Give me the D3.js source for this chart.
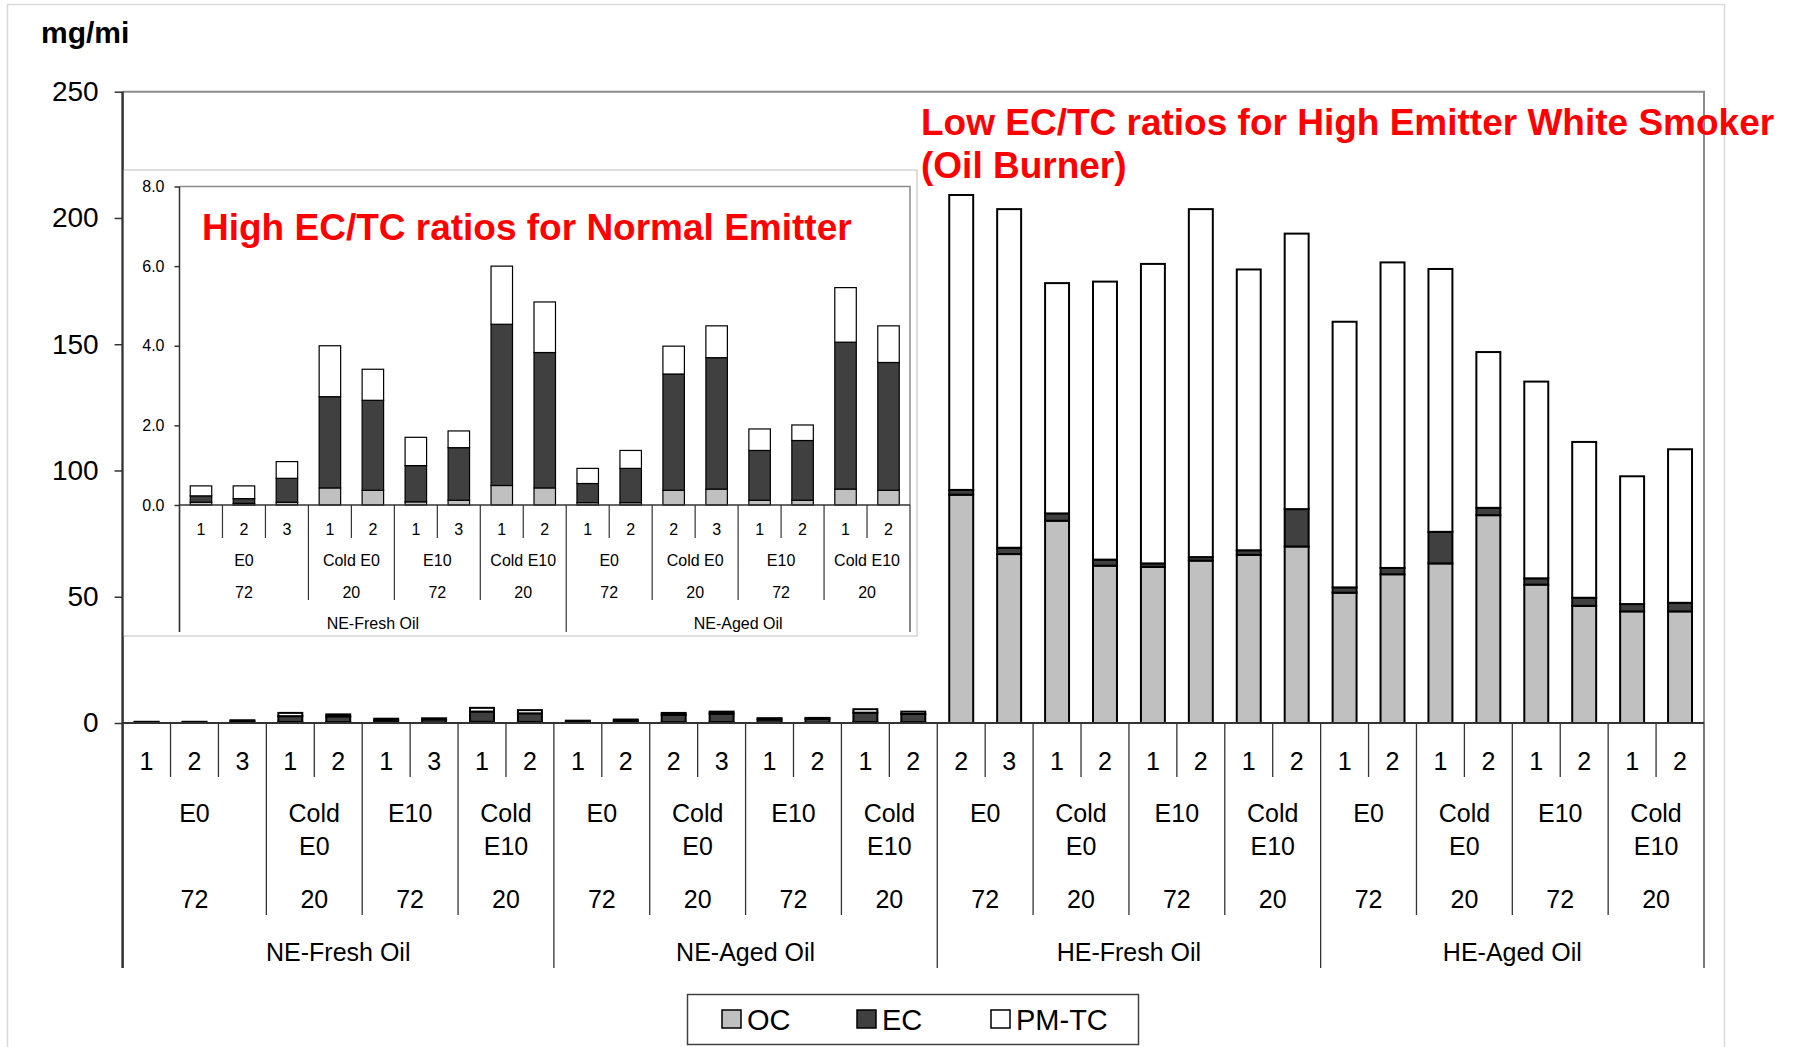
<!DOCTYPE html>
<html>
<head>
<meta charset="utf-8">
<script src="https://cdn.jsdelivr.net/npm/d3@7"></script>
<style>
  body { margin: 0; background: #fff; }
  text { font-family: "Liberation Sans", Arial, sans-serif; }
</style>
</head>
<body>
<svg id="chart" width="1797" height="1047"></svg>
<script>
// ---- Categories (one entry per bar) ----
const groupLabels = [
  "NE-Fresh Oil","NE-Fresh Oil","NE-Fresh Oil","NE-Fresh Oil","NE-Fresh Oil","NE-Fresh Oil","NE-Fresh Oil","NE-Fresh Oil","NE-Fresh Oil",
  "NE-Aged Oil","NE-Aged Oil","NE-Aged Oil","NE-Aged Oil","NE-Aged Oil","NE-Aged Oil","NE-Aged Oil","NE-Aged Oil",
  "HE-Fresh Oil","HE-Fresh Oil","HE-Fresh Oil","HE-Fresh Oil","HE-Fresh Oil","HE-Fresh Oil","HE-Fresh Oil","HE-Fresh Oil",
  "HE-Aged Oil","HE-Aged Oil","HE-Aged Oil","HE-Aged Oil","HE-Aged Oil","HE-Aged Oil","HE-Aged Oil","HE-Aged Oil"
];
const fuelLabels = [
  "E0","E0","E0","Cold E0","Cold E0","E10","E10","Cold E10","Cold E10",
  "E0","E0","Cold E0","Cold E0","E10","E10","Cold E10","Cold E10",
  "E0","E0","Cold E0","Cold E0","E10","E10","Cold E10","Cold E10",
  "E0","E0","Cold E0","Cold E0","E10","E10","Cold E10","Cold E10"
];
const soakLabels = [
  "72","72","72","20","20","72","72","20","20",
  "72","72","20","20","72","72","20","20",
  "72","72","20","20","72","72","20","20",
  "72","72","20","20","72","72","20","20"
];
const runLabels = [
  "1","2","3","1","2","1","3","1","2",
  "1","2","2","3","1","2","1","2",
  "2","3","1","2","1","2","1","2",
  "1","2","1","2","1","2","1","2"
];

// ---- Series (stacked segments, mg/mi) ----
const seriesNames = ["OC", "EC", "PM-TC"];
const ocValues = [
  0.07, 0.04, 0.07, 0.43, 0.37, 0.08, 0.12, 0.49, 0.43,
  0.06, 0.06, 0.37, 0.40, 0.12, 0.12, 0.40, 0.37,
  90.4, 66.9, 80.1, 62.3, 61.8, 64.3, 66.6, 69.9,
  51.6, 58.9, 63.2, 82.3, 54.8, 46.4, 44.2, 44.2
];
const ecValues = [
  0.16, 0.12, 0.60, 2.29, 2.26, 0.91, 1.32, 4.05, 3.40,
  0.48, 0.86, 2.92, 3.30, 1.25, 1.50, 3.69, 3.21,
  1.9, 2.5, 2.9, 2.4, 1.4, 1.4, 1.8, 14.8,
  2.1, 2.5, 12.5, 2.9, 2.5, 3.2, 2.9, 3.4
];
const pmtcValues = [
  0.25, 0.32, 0.42, 1.28, 0.78, 0.71, 0.42, 1.46, 1.27,
  0.38, 0.45, 0.70, 0.80, 0.54, 0.39, 1.37, 0.92,
  116.8, 134.1, 91.2, 110.1, 118.6, 137.8, 111.2, 109.1,
  105.2, 121.0, 104.1, 61.7, 77.9, 61.7, 50.6, 60.8
];

// ---- Axis ticks ----
const mainTicks = [0, 50, 100, 150, 200, 250];
const insetTicks = [0, 2, 4, 6, 8];
const insetCount = 17;   // normal-emitter bars shown in the zoomed panel

const colors = { "OC": "#c0c0c0", "EC": "#404040", "PM-TC": "#ffffff" };

const table = runLabels.map((r, i) => ({ OC: ocValues[i], EC: ecValues[i], "PM-TC": pmtcValues[i] }));
const stacked = d3.stack().keys(seriesNames)(table);

const svg = d3.select("#chart");
svg.append("rect").attr("width", 1797).attr("height", 1047).attr("fill", "#fff");
// outer frame
svg.append("rect").attr("x", 7.5).attr("y", 4.5).attr("width", 1717).attr("height", 1060)
  .attr("fill", "none").attr("stroke", "#d9d9d9").attr("stroke-width", 1.5);

// consecutive runs of identical keys -> [start, end) spans
function spans(keyFn, n) {
  const out = [];
  let s = 0;
  for (let i = 1; i <= n; i++) {
    if (i === n || keyFn(i) !== keyFn(s)) { out.push([s, i]); s = i; }
  }
  return out;
}

function drawPanel(cfg) {
  const n = cfg.count;
  const g = svg.append("g");
  const x = d3.scaleBand().domain(d3.range(n)).range([cfg.left, cfg.right])
    .paddingInner(0.5).paddingOuter(0.25);
  const y = d3.scaleLinear().domain([0, cfg.max]).range([cfg.bottom, cfg.top]);
  const gap = (x.step() - x.bandwidth()) / 2;
  const edge = i => i < n ? x(i) - gap : x(n - 1) + x.bandwidth() + gap;

  // plot area border (top and right)
  g.append("path")
    .attr("d", `M${cfg.left},${y(cfg.max)}H${cfg.right}V${y(0)}`)
    .attr("fill", "none").attr("stroke", "#8c8c8c").attr("stroke-width", cfg.borderWidth);

  // stacked bars
  stacked.forEach(s => {
    g.append("g").attr("fill", colors[s.key])
      .selectAll("rect").data(s.slice(0, n)).join("rect")
      .attr("x", (d, i) => x(i))
      .attr("width", x.bandwidth())
      .attr("y", d => y(d[1]))
      .attr("height", d => y(d[0]) - y(d[1]))
      .attr("stroke", "#000").attr("stroke-width", cfg.barStroke);
  });

  // y axis ticks and labels
  const ax = g.append("g").attr("transform", `translate(${cfg.left},0)`)
    .call(d3.axisLeft(y).tickValues(cfg.ticks).tickSize(cfg.tickLen).tickPadding(cfg.tickPad)
      .tickFormat(cfg.fmt));
  ax.select(".domain").remove();
  ax.selectAll(".tick line").attr("stroke", "#333").attr("stroke-width", 1.5);
  ax.selectAll(".tick text").attr("fill", "#000").style("font-size", cfg.tickFont + "px")
    .style("font-family", "'Liberation Sans', Arial, sans-serif");

  // category separators below the baseline
  const sep = g.append("g").attr("stroke", "#333").attr("stroke-width", cfg.sepWidth);
  for (let i = 0; i <= n; i++) {
    let depth;
    if (i === 0 || i === n || groupLabels[i] !== groupLabels[i - 1]) depth = cfg.rows.groupSep;
    else if (fuelLabels[i] !== fuelLabels[i - 1]) depth = cfg.rows.fuelSep;
    else depth = cfg.rows.runSep;
    sep.append("line").attr("x1", edge(i)).attr("x2", edge(i))
      .attr("y1", y(0)).attr("y2", depth);
  }
  // left axis line
  g.append("line").attr("x1", cfg.left).attr("x2", cfg.left)
    .attr("y1", y(cfg.max)).attr("y2", cfg.rows.groupSep)
    .attr("stroke", "#333").attr("stroke-width", cfg.axisWidth);
  // baseline
  g.append("line").attr("x1", cfg.left).attr("x2", cfg.right)
    .attr("y1", y(0)).attr("y2", y(0))
    .attr("stroke", "#333").attr("stroke-width", cfg.axisWidth);

  const labels = g.append("g").attr("text-anchor", "middle").attr("fill", "#000")
    .style("font-size", cfg.labelFont + "px");

  // run numbers
  runLabels.slice(0, n).forEach((r, i) => {
    labels.append("text").attr("x", x(i) + x.bandwidth() / 2).attr("y", cfg.rows.run).text(r);
  });
  // fuel and soak-time labels
  spans(i => groupLabels[i] + "|" + fuelLabels[i], n).forEach(([a, b]) => {
    const cx = (edge(a) + edge(b)) / 2;
    const lines = cfg.wrapFuel ? fuelLabels[a].split(" ") : [fuelLabels[a]];
    lines.forEach((t, k) => {
      labels.append("text").attr("x", cx).attr("y", cfg.rows.fuel + k * cfg.rows.fuelLine)
        .attr("xml:space", "preserve").text(t);
    });
    labels.append("text").attr("x", cx).attr("y", cfg.rows.soak).text(soakLabels[a]);
  });
  // oil groups
  spans(i => groupLabels[i], n).forEach(([a, b]) => {
    labels.append("text").attr("x", (edge(a) + edge(b)) / 2).attr("y", cfg.rows.group)
      .text(groupLabels[a]);
  });
  return g;
}

// ---- Main chart: all vehicles ----
drawPanel({
  count: runLabels.length,
  left: 122.6, right: 1704, top: 91.7, bottom: 723,
  max: 250, ticks: mainTicks, fmt: d3.format("d"),
  tickLen: 8, tickPad: 16, tickFont: 28,
  barStroke: 2, borderWidth: 2, axisWidth: 2, sepWidth: 1.3,
  labelFont: 25, wrapFuel: true,
  rows: { run: 770, fuel: 822, fuelLine: 33, soak: 908, group: 961,
          runSep: 777, fuelSep: 915, groupSep: 968 }
});

// main axis unit
svg.append("text").attr("x", 41).attr("y", 43)
  .style("font-size", "30px").style("font-weight", "bold").attr("fill", "#000").text("mg/mi");

// ---- Zoomed panel: normal emitter ----
svg.append("rect").attr("x", 123).attr("y", 170).attr("width", 794).attr("height", 466)
  .attr("fill", "#fff").attr("stroke", "#c8c8c8").attr("stroke-width", 1.2);

drawPanel({
  count: insetCount,
  left: 179.5, right: 910, top: 186.5, bottom: 505,
  max: 8, ticks: insetTicks, fmt: d3.format(".1f"),
  tickLen: 5, tickPad: 10, tickFont: 16,
  barStroke: 1.2, borderWidth: 1.5, axisWidth: 1.5, sepWidth: 1.2,
  labelFont: 16, wrapFuel: false,
  rows: { run: 535, fuel: 566, fuelLine: 0, soak: 598, group: 629,
          runSep: 538, fuelSep: 600, groupSep: 632 }
});

// main left axis drawn over the panel's edge
svg.append("line").attr("x1", 122.6).attr("x2", 122.6).attr("y1", 91.7).attr("y2", 968)
  .attr("stroke", "#333").attr("stroke-width", 2);

// ---- Annotations ----
svg.append("text").attr("x", 202).attr("y", 240)
  .style("font-size", "37px").style("font-weight", "bold").attr("fill", "#ff0000")
  .text("High EC/TC ratios for Normal Emitter");
const note = svg.append("text").style("font-size", "37px").style("font-weight", "bold")
  .attr("fill", "#ff0000");
note.append("tspan").attr("x", 921).attr("y", 135).text("Low EC/TC ratios for High Emitter White Smoker");
note.append("tspan").attr("x", 921).attr("y", 178).text("(Oil Burner)");

// ---- Legend ----
const legend = svg.append("g");
legend.append("rect").attr("x", 687.5).attr("y", 994.5).attr("width", 451).attr("height", 50)
  .attr("fill", "#fff").attr("stroke", "#404040").attr("stroke-width", 1.5);
const legendX = [722, 857, 991];
seriesNames.forEach((k, i) => {
  legend.append("rect").attr("x", legendX[i]).attr("y", 1010).attr("width", 19).attr("height", 18)
    .attr("fill", colors[k]).attr("stroke", "#000").attr("stroke-width", 1.5);
  legend.append("text").attr("x", legendX[i] + 25).attr("y", 1030)
    .style("font-size", "29px").attr("fill", "#000").text(k);
});
</script>
</body>
</html>
